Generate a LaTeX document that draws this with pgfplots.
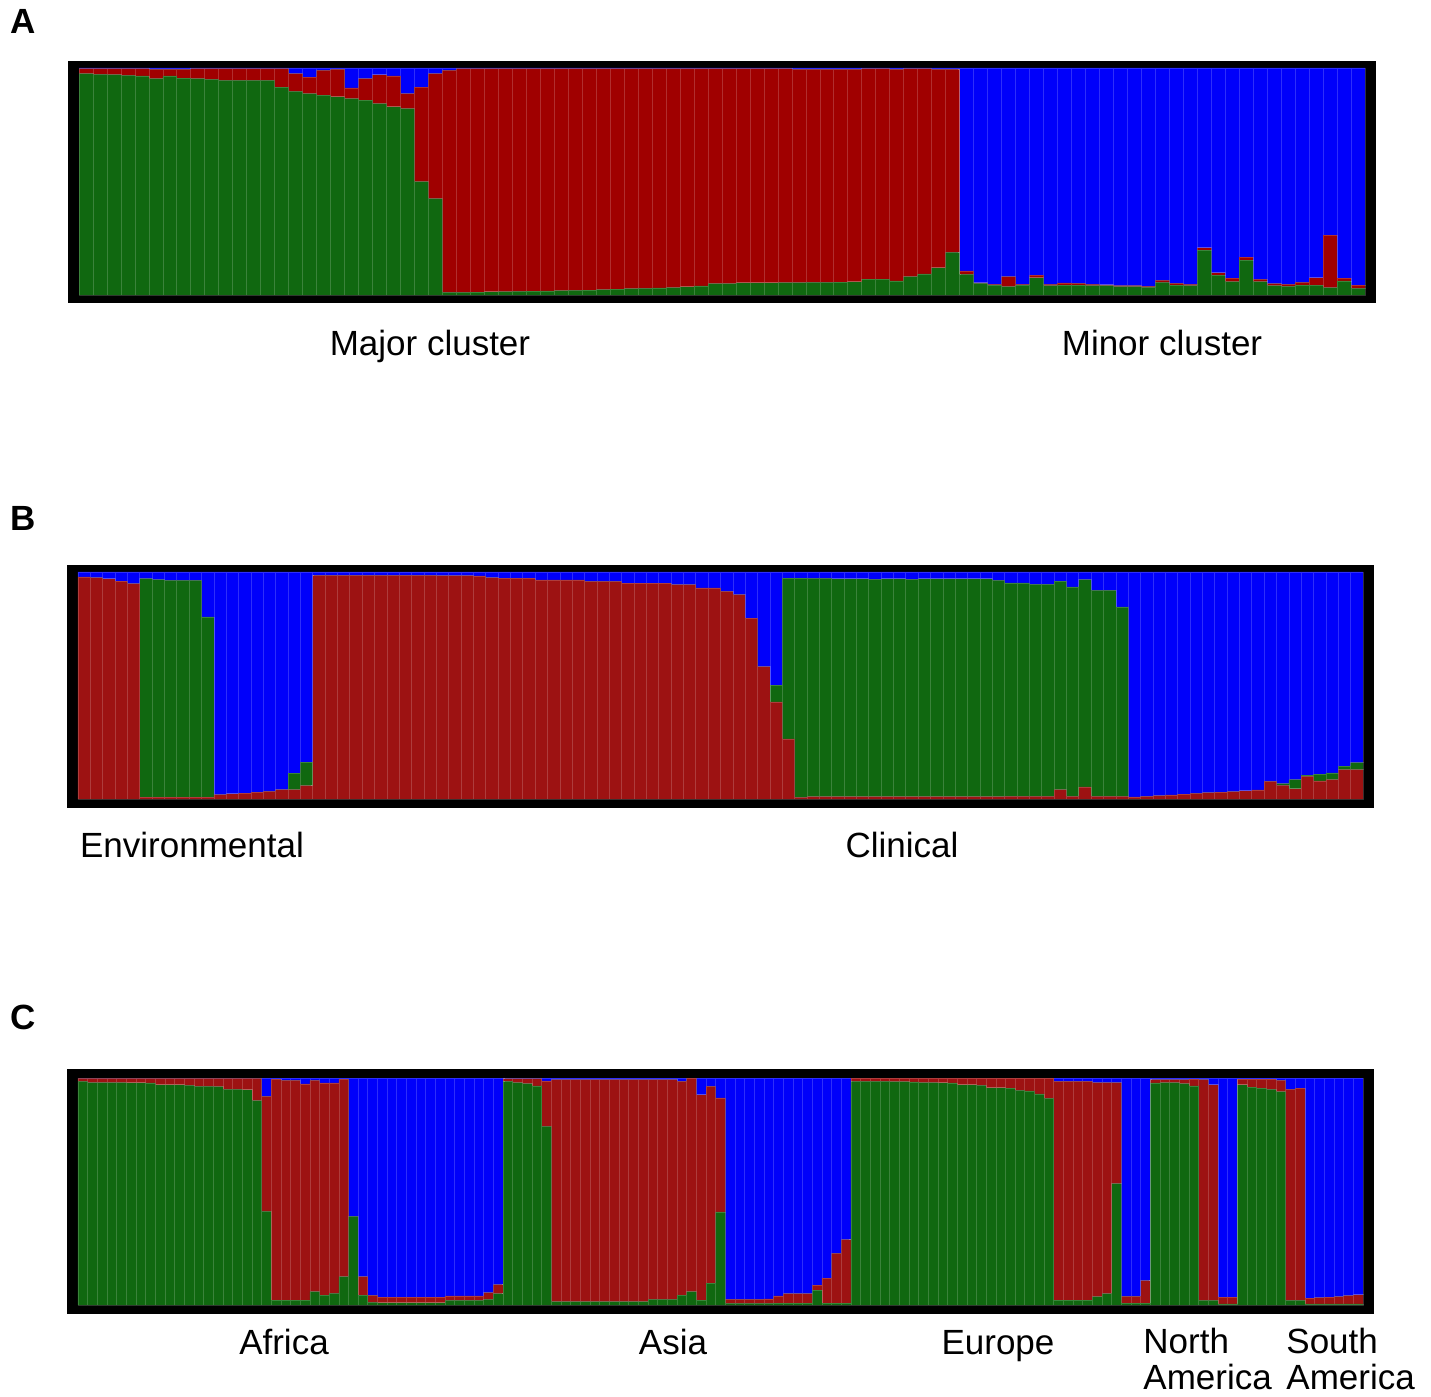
\documentclass[border=0pt]{standalone}
\usepackage{pgfplots}
\usepackage{pgfplotstable}
\pgfplotsset{compat=1.18}
\usepackage{fontspec}
\setmainfont{Liberation Sans}
\definecolor{gA}{RGB}{16,104,16}
\definecolor{rA}{RGB}{160,0,0}
\definecolor{rB}{RGB}{157,18,18}
\definecolor{bl}{RGB}{0,0,250}

\pgfplotstableread{
x g r b
1 0.975 0.022 0.003
2 0.972 0.025 0.003
3 0.971 0.026 0.003
4 0.968 0.029 0.003
5 0.965 0.032 0.003
6 0.953 0.041 0.006
7 0.965 0.029 0.006
8 0.955 0.039 0.006
9 0.953 0.044 0.003
10 0.950 0.047 0.003
11 0.946 0.051 0.003
12 0.946 0.051 0.003
13 0.946 0.051 0.003
14 0.946 0.051 0.003
15 0.916 0.081 0.003
16 0.897 0.078 0.025
17 0.887 0.073 0.040
18 0.880 0.110 0.010
19 0.873 0.121 0.006
20 0.865 0.047 0.088
21 0.858 0.095 0.047
22 0.843 0.127 0.030
23 0.829 0.136 0.035
24 0.821 0.066 0.113
25 0.499 0.417 0.084
26 0.425 0.550 0.025
27 0.012 0.978 0.010
28 0.012 0.985 0.003
29 0.013 0.984 0.003
30 0.014 0.983 0.003
31 0.015 0.982 0.003
32 0.016 0.981 0.003
33 0.017 0.980 0.003
34 0.018 0.979 0.003
35 0.019 0.978 0.003
36 0.020 0.977 0.003
37 0.022 0.975 0.003
38 0.024 0.973 0.003
39 0.026 0.971 0.003
40 0.028 0.969 0.003
41 0.029 0.968 0.003
42 0.031 0.966 0.003
43 0.033 0.964 0.003
44 0.036 0.961 0.003
45 0.040 0.957 0.003
46 0.050 0.947 0.003
47 0.050 0.947 0.003
48 0.054 0.943 0.003
49 0.054 0.943 0.003
50 0.054 0.943 0.003
51 0.055 0.942 0.003
52 0.055 0.939 0.006
53 0.056 0.938 0.006
54 0.056 0.938 0.006
55 0.057 0.937 0.006
56 0.058 0.936 0.006
57 0.070 0.927 0.003
58 0.070 0.927 0.003
59 0.062 0.932 0.006
60 0.081 0.916 0.003
61 0.093 0.904 0.003
62 0.120 0.874 0.006
63 0.188 0.806 0.006
64 0.091 0.015 0.894
65 0.051 0.003 0.946
66 0.044 0.003 0.953
67 0.037 0.044 0.919
68 0.044 0.003 0.953
69 0.076 0.012 0.912
70 0.041 0.006 0.953
71 0.044 0.009 0.947
72 0.044 0.007 0.949
73 0.041 0.006 0.953
74 0.041 0.004 0.955
75 0.037 0.004 0.959
76 0.037 0.004 0.959
77 0.034 0.004 0.962
78 0.056 0.009 0.935
79 0.044 0.007 0.949
80 0.041 0.006 0.953
81 0.198 0.010 0.792
82 0.088 0.010 0.902
83 0.059 0.015 0.926
84 0.154 0.013 0.833
85 0.059 0.010 0.931
86 0.041 0.009 0.950
87 0.038 0.009 0.953
88 0.044 0.012 0.944
89 0.044 0.032 0.924
90 0.032 0.232 0.736
91 0.062 0.012 0.926
92 0.029 0.015 0.956
}\dataA

\pgfplotstableread{
x r g b
1 0.978 0 0.022
2 0.975 0 0.025
3 0.970 0 0.030
4 0.960 0 0.040
5 0.949 0 0.051
6 0.008 0.963 0.029
7 0.008 0.958 0.034
8 0.008 0.955 0.037
9 0.008 0.955 0.037
10 0.008 0.955 0.037
11 0.008 0.794 0.198
12 0.019 0 0.981
13 0.023 0 0.977
14 0.026 0 0.974
15 0.030 0 0.970
16 0.034 0 0.966
17 0.041 0 0.959
18 0.041 0.073 0.886
19 0.059 0.104 0.837
20 0.985 0 0.015
21 0.985 0 0.015
22 0.985 0 0.015
23 0.985 0 0.015
24 0.985 0 0.015
25 0.985 0 0.015
26 0.985 0 0.015
27 0.985 0 0.015
28 0.985 0 0.015
29 0.985 0 0.015
30 0.984 0 0.016
31 0.984 0 0.016
32 0.984 0 0.016
33 0.983 0 0.017
34 0.975 0 0.025
35 0.973 0 0.027
36 0.973 0 0.027
37 0.973 0 0.027
38 0.965 0 0.035
39 0.965 0 0.035
40 0.965 0 0.035
41 0.965 0 0.035
42 0.959 0 0.041
43 0.959 0 0.041
44 0.959 0 0.041
45 0.951 0 0.049
46 0.951 0 0.049
47 0.951 0 0.049
48 0.951 0 0.049
49 0.944 0 0.056
50 0.944 0 0.056
51 0.930 0 0.070
52 0.930 0 0.070
53 0.915 0 0.085
54 0.900 0 0.100
55 0.797 0 0.203
56 0.583 0 0.417
57 0.428 0.074 0.498
58 0.265 0.708 0.027
59 0.007 0.966 0.027
60 0.010 0.962 0.028
61 0.010 0.962 0.028
62 0.010 0.960 0.030
63 0.010 0.960 0.030
64 0.010 0.960 0.030
65 0.010 0.958 0.032
66 0.010 0.960 0.030
67 0.010 0.960 0.030
68 0.010 0.958 0.032
69 0.010 0.960 0.030
70 0.010 0.960 0.030
71 0.010 0.960 0.030
72 0.010 0.960 0.030
73 0.010 0.960 0.030
74 0.010 0.960 0.030
75 0.010 0.953 0.037
76 0.012 0.940 0.048
77 0.012 0.940 0.048
78 0.012 0.934 0.054
79 0.012 0.934 0.054
80 0.041 0.919 0.040
81 0.012 0.922 0.066
82 0.053 0.913 0.034
83 0.012 0.907 0.081
84 0.012 0.907 0.081
85 0.012 0.834 0.154
86 0.009 0 0.991
87 0.012 0 0.988
88 0.015 0 0.985
89 0.018 0 0.982
90 0.021 0 0.979
91 0.025 0 0.975
92 0.028 0 0.972
93 0.030 0 0.970
94 0.033 0 0.967
95 0.036 0 0.964
96 0.040 0 0.960
97 0.078 0 0.922
98 0.060 0.008 0.932
99 0.045 0.040 0.915
100 0.100 0.005 0.895
101 0.080 0.030 0.890
102 0.085 0.030 0.885
103 0.130 0.015 0.855
104 0.130 0.030 0.840
}\dataB

\pgfplotstableread{
x g r b
1 0.985 0.013 0.002
2 0.980 0.018 0.002
3 0.980 0.018 0.002
4 0.980 0.018 0.002
5 0.980 0.018 0.002
6 0.979 0.019 0.002
7 0.979 0.019 0.002
8 0.978 0.020 0.002
9 0.970 0.028 0.002
10 0.970 0.028 0.002
11 0.970 0.028 0.002
12 0.968 0.030 0.002
13 0.963 0.035 0.002
14 0.963 0.035 0.002
15 0.962 0.036 0.002
16 0.950 0.048 0.002
17 0.950 0.048 0.002
18 0.948 0.050 0.002
19 0.900 0.098 0.002
20 0.412 0.507 0.081
21 0.022 0.973 0.005
22 0.022 0.968 0.010
23 0.022 0.968 0.010
24 0.022 0.952 0.026
25 0.059 0.931 0.010
26 0.044 0.934 0.022
27 0.051 0.927 0.022
28 0.125 0.870 0.005
29 0.390 0.000 0.610
30 0.044 0.081 0.875
31 0.012 0.030 0.958
32 0.010 0.025 0.965
33 0.010 0.025 0.965
34 0.010 0.025 0.965
35 0.010 0.025 0.965
36 0.010 0.025 0.965
37 0.010 0.025 0.965
38 0.010 0.025 0.965
39 0.020 0.020 0.960
40 0.020 0.020 0.960
41 0.020 0.020 0.960
42 0.020 0.020 0.960
43 0.025 0.030 0.945
44 0.050 0.040 0.910
45 0.985 0.012 0.003
46 0.980 0.017 0.003
47 0.975 0.022 0.003
48 0.965 0.032 0.003
49 0.787 0.200 0.013
50 0.015 0.978 0.007
51 0.015 0.978 0.007
52 0.015 0.978 0.007
53 0.015 0.978 0.007
54 0.015 0.978 0.007
55 0.015 0.978 0.007
56 0.015 0.978 0.007
57 0.015 0.978 0.007
58 0.015 0.978 0.007
59 0.015 0.978 0.007
60 0.025 0.968 0.007
61 0.025 0.968 0.007
62 0.025 0.968 0.007
63 0.044 0.941 0.015
64 0.059 0.941 0.000
65 0.022 0.904 0.074
66 0.096 0.867 0.037
67 0.410 0.502 0.088
68 0.007 0.018 0.975
69 0.007 0.018 0.975
70 0.007 0.018 0.975
71 0.007 0.018 0.975
72 0.007 0.020 0.973
73 0.008 0.032 0.960
74 0.008 0.042 0.950
75 0.008 0.042 0.950
76 0.008 0.042 0.950
77 0.066 0.022 0.912
78 0.008 0.110 0.882
79 0.008 0.220 0.772
80 0.008 0.280 0.712
81 0.985 0.015 0.000
82 0.985 0.015 0.000
83 0.985 0.015 0.000
84 0.985 0.015 0.000
85 0.984 0.016 0.000
86 0.984 0.016 0.000
87 0.983 0.017 0.000
88 0.980 0.020 0.000
89 0.980 0.020 0.000
90 0.979 0.021 0.000
91 0.978 0.022 0.000
92 0.970 0.030 0.000
93 0.970 0.030 0.000
94 0.968 0.032 0.000
95 0.957 0.043 0.000
96 0.957 0.043 0.000
97 0.955 0.045 0.000
98 0.945 0.055 0.000
99 0.943 0.057 0.000
100 0.930 0.070 0.000
101 0.910 0.090 0.000
102 0.022 0.963 0.015
103 0.022 0.963 0.015
104 0.022 0.963 0.015
105 0.022 0.963 0.015
106 0.037 0.943 0.020
107 0.050 0.930 0.020
108 0.535 0.445 0.020
109 0.008 0.030 0.962
110 0.008 0.030 0.962
111 0.008 0.100 0.892
112 0.978 0.015 0.007
113 0.980 0.013 0.007
114 0.980 0.013 0.007
115 0.975 0.018 0.007
116 0.965 0.030 0.005
117 0.020 0.973 0.007
118 0.020 0.950 0.030
119 0.005 0.030 0.965
120 0.005 0.030 0.965
121 0.970 0.025 0.005
122 0.960 0.035 0.005
123 0.955 0.040 0.005
124 0.950 0.045 0.005
125 0.940 0.050 0.010
126 0.020 0.930 0.050
127 0.020 0.935 0.045
128 0.005 0.025 0.970
129 0.005 0.028 0.967
130 0.005 0.030 0.965
131 0.005 0.032 0.963
132 0.005 0.036 0.959
133 0.005 0.040 0.955
}\dataC

\pgfplotsset{
  strbar/.style={
    scale only axis, anchor=south west,
    axis background/.style={fill=black},
    axis line style={draw=black},
    ticks=none,
    ybar stacked, bar width=1,
    every axis plot/.append style={draw=white, draw opacity=0.18, line width=0.35pt},
  },
}

\begin{document}
\begin{tikzpicture}
\useasboundingbox (0,0) rectangle (715.5pt,-698.5pt);

% Panel A
\begin{axis}[strbar, at={(34pt,-151pt)}, width=653.5pt, height=120.5pt,
  xmin=-0.287, xmax=93.215, ymin=-0.0308, ymax=1.0308]
\addplot[fill=gA] table[x=x,y=g]{\dataA};
\addplot[fill=rA] table[x=x,y=r]{\dataA};
\addplot[fill=bl] table[x=x,y=b]{\dataA};
\draw[white, line width=1.5pt, draw opacity=1] (axis cs:63.5,0) -- (axis cs:63.5,1);
\end{axis}

% Panel B
\begin{axis}[strbar, at={(33.5pt,-403.5pt)}, width=653pt, height=121pt,
  xmin=-0.390, xmax=105.309, ymin=-0.0352, ymax=1.0308]
\addplot[fill=rB] table[x=x,y=r]{\dataB};
\addplot[fill=gA] table[x=x,y=g]{\dataB};
\addplot[fill=bl] table[x=x,y=b]{\dataB};
\draw[white, line width=1.5pt, draw opacity=1] (axis cs:19.5,0) -- (axis cs:19.5,1);
\end{axis}

% Panel C
\begin{axis}[strbar, at={(33.5pt,-656.5pt)}, width=653pt, height=122pt,
  xmin=-0.638, xmax=134.535, ymin=-0.0352, ymax=1.0396]
\addplot[fill=gA] table[x=x,y=g]{\dataC};
\addplot[fill=rB] table[x=x,y=r]{\dataC};
\addplot[fill=bl] table[x=x,y=b]{\dataC};
\draw[white, line width=1.5pt, draw opacity=1] (axis cs:44.5,0) -- (axis cs:44.5,1);
\draw[white, line width=1.5pt, draw opacity=1] (axis cs:80.5,0) -- (axis cs:80.5,1);
\draw[white, line width=1.5pt, draw opacity=1] (axis cs:111.5,0) -- (axis cs:111.5,1);
\draw[white, line width=1.5pt, draw opacity=1] (axis cs:120.5,0) -- (axis cs:120.5,1);
\end{axis}

\begin{scope}[every node/.style={inner sep=0pt, font=\fontsize{17.5}{21}\selectfont}]
\node[anchor=base west, font=\bfseries\fontsize{17.5}{21}\selectfont] at (5pt,-16.5pt) {A};
\node[anchor=base west, font=\bfseries\fontsize{17.5}{21}\selectfont] at (5pt,-265pt) {B};
\node[anchor=base west, font=\bfseries\fontsize{17.5}{21}\selectfont] at (5pt,-514.5pt) {C};
\node[anchor=base] at (215pt,-177.5pt) {Major cluster};
\node[anchor=base] at (581pt,-177.5pt) {Minor cluster};
\node[anchor=base] at (96pt,-428.5pt) {Environmental};
\node[anchor=base] at (451pt,-428.5pt) {Clinical};
\node[anchor=base] at (142pt,-677pt) {Africa};
\node[anchor=base] at (336.5pt,-677pt) {Asia};
\node[anchor=base] at (499pt,-677pt) {Europe};
\node[anchor=base west] at (571.5pt,-676.5pt) {North};
\node[anchor=base west] at (571.5pt,-694.8pt) {America};
\node[anchor=base west] at (643pt,-676.5pt) {South};
\node[anchor=base west] at (643pt,-694.8pt) {America};
\end{scope}
\end{tikzpicture}
\end{document}
